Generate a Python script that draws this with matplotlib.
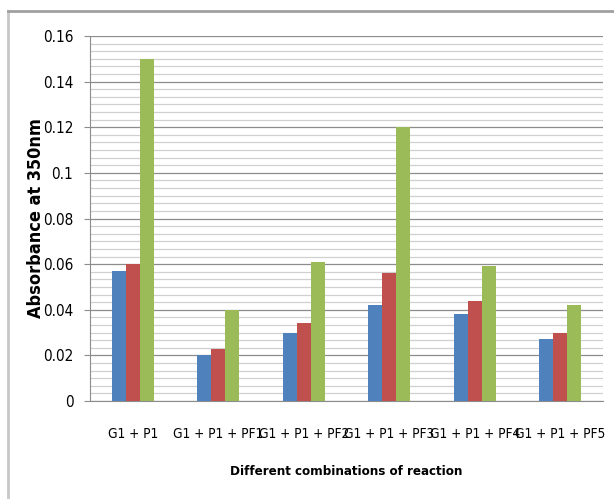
import matplotlib.pyplot as plt
import numpy as np
from matplotlib.ticker import MultipleLocator

# data
combos = ["G1 + P1", "G1 + P1 + PF1", "G1 + P1 + PF2", "G1 + P1 + PF3", "G1 + P1 + PF4", "G1 + P1 + PF5"]
series_blue = [0.057, 0.020, 0.030, 0.042, 0.038, 0.027]
series_red = [0.060, 0.023, 0.034, 0.056, 0.044, 0.030]
series_green = [0.150, 0.040, 0.061, 0.120, 0.059, 0.042]

plt.rcParams['font.family'] = ['DejaVu Sans']
plt.rcParams['font.stretch'] = 'condensed'

fig = plt.figure(figsize=(6.14, 4.99), dpi=100)
ax = fig.add_axes([90 / 614, 1 - 401 / 499, 513 / 614, 365 / 499])

# outer chart frame (top and left only visible)
fig.add_artist(plt.Line2D([8 / 614, 8 / 614], [0, 1 - 11 / 499], transform=fig.transFigure, color='#c8c8c8', lw=2))
fig.add_artist(plt.Line2D([8 / 614, 1], [1 - 11 / 499, 1 - 11 / 499], transform=fig.transFigure, color='#a0a0a0', lw=2))

x = np.arange(len(combos))
w = 0.165
ax.bar(x - w, series_blue, w, color='#4F81BD', zorder=3)
ax.bar(x, series_red, w, color='#C0504D', zorder=3)
ax.bar(x + w, series_green, w, color='#9BBB59', zorder=3)

ax.set_xlim(-0.5, len(combos) - 0.5)
ax.set_ylim(0, 0.16)
ax.yaxis.set_minor_locator(MultipleLocator(0.02 / 6))
ax.set_yticks(np.arange(0, 0.161, 0.02))
ax.set_yticklabels(['0', '0.02', '0.04', '0.06', '0.08', '0.1', '0.12', '0.14', '0.16'])
ax.grid(which='major', axis='y', color='#8c8c8c', lw=0.9, zorder=0)
ax.grid(which='minor', axis='y', color='#d0d0d0', lw=0.9, zorder=0)

ax.set_xticks(x)
ax.set_xticklabels(combos, fontsize=9.8)
ax.tick_params(axis='x', length=0, pad=19)
ax.tick_params(axis='y', which='major', length=4, color='#8c8c8c', labelsize=11, pad=8)
ax.tick_params(axis='y', which='minor', length=0)

for s in ['top', 'right']:
    ax.spines[s].set_visible(False)
ax.spines['left'].set_color('#8c8c8c')
ax.spines['bottom'].set_color('#8c8c8c')

ax.set_ylabel('Absorbance at 350nm', fontsize=13, fontweight='bold')
ax.yaxis.set_label_coords(-45 / 513, 0.5)
ax.set_xlabel('Different combinations of reaction', fontsize=9.5, fontweight='bold')
ax.xaxis.set_label_coords(0.5, -64 / 365)

fig.savefig('out.png', dpi=100)
